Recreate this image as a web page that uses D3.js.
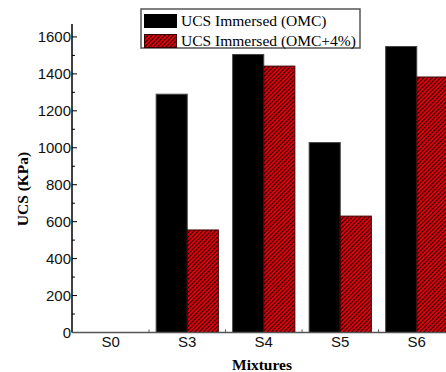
<!DOCTYPE html>
<html><head><meta charset="utf-8">
<script src="https://cdn.jsdelivr.net/npm/d3@7/dist/d3.min.js"></script>
<style>body{margin:0;background:#fff}svg{display:block}</style>
</head><body>
<script>
const categories = ["S0","S3","S4","S5","S6"];
const seriesNames = ["UCS Immersed (OMC)","UCS Immersed (OMC+4%)"];
const omc = [0,1290,1505,1028,1548];
const omc4 = [0,555,1442,630,1383];
const yTicks = [0,200,400,600,800,1000,1200,1400,1600];
const yMinor = [100,300,500,700,900,1100,1300,1500];

const W=446,H=372;
const svg=d3.select("body").append("svg").attr("width",W).attr("height",H);
const defs=svg.append("defs");
const pat=defs.append("pattern").attr("id","hatch").attr("patternUnits","userSpaceOnUse")
  .attr("width",3).attr("height",3).attr("patternTransform","rotate(45)");
pat.append("rect").attr("width",3).attr("height",3).attr("fill","#e8000b");
pat.append("rect").attr("x",0).attr("width",1.1).attr("height",3).attr("fill","#200000");

const x=d3.scaleBand().domain(categories).range([72.5,455]).paddingInner(0).paddingOuter(0);
const x1=d3.scaleBand().domain(seriesNames).range([0,x.bandwidth()]).paddingInner(0).paddingOuter(0.23);
const y=d3.scaleLinear().domain([0,1670]).range([332.5,24]);

const data=categories.map((c,i)=>({c,vals:[omc[i],omc4[i]]}));
const g=svg.append("g");
data.forEach(d=>{
  d.vals.forEach((v,j)=>{
    if(v<=0) return;
    g.append("rect").attr("x",x(d.c)+x1(seriesNames[j])).attr("y",y(v))
      .attr("width",x1.bandwidth()).attr("height",y(0)-y(v))
      .attr("fill", j===0?"#000":"url(#hatch)")
      .attr("stroke", j===0?"#444":"#3a0000").attr("stroke-width",1);
  });
});

// Y axis
const ya=svg.append("g").attr("transform","translate(72,0)");
ya.append("line").attr("x1",0).attr("x2",0).attr("y1",y(1670)).attr("y2",y(0)).attr("stroke","#000").attr("stroke-width",1.5);
ya.selectAll(".mj").data(yTicks).join("line").attr("x1",0).attr("x2",5).attr("y1",d=>y(d)).attr("y2",d=>y(d)).attr("stroke","#000");
ya.selectAll(".mn").data(yMinor).join("line").attr("x1",0).attr("x2",3).attr("y1",d=>y(d)).attr("y2",d=>y(d)).attr("stroke","#000");
ya.selectAll("text").data(yTicks).join("text").attr("x",-1).attr("y",d=>y(d)+5.3)
  .attr("text-anchor","end").attr("font-family","Liberation Sans, Arial, sans-serif").attr("font-size",15).attr("fill","#111").text(d=>d);

// X axis
const xa=svg.append("g");
xa.append("line").attr("x1",72).attr("x2",W).attr("y1",y(0)).attr("y2",y(0)).attr("stroke","#555").attr("stroke-width",1.6);
xa.selectAll(".xt").data(categories.slice(1)).join("line").attr("x1",d=>x(d)).attr("x2",d=>x(d)).attr("y1",y(0)).attr("y2",y(0)-3).attr("stroke","#555");
xa.selectAll("text").data(categories).join("text").attr("x",d=>x(d)+x.bandwidth()/2).attr("y",346.5)
  .attr("text-anchor","middle").attr("font-family","Liberation Sans, Arial, sans-serif").attr("font-size",15).attr("fill","#111").text(d=>d);

svg.append("text").attr("x",262).attr("y",370).attr("text-anchor","middle")
  .attr("font-family","Liberation Serif, Times New Roman, serif").attr("font-weight","bold").attr("font-size",15.5).text("Mixtures");
svg.append("text").attr("transform","translate(28,189) rotate(-90)").attr("text-anchor","middle")
  .attr("font-family","Liberation Serif, Times New Roman, serif").attr("font-weight","bold").attr("font-size",15.5).text("UCS (KPa)");

// Legend
const lg=svg.append("g");
lg.append("rect").attr("x",141).attr("y",9).attr("width",219).attr("height",39).attr("fill","#fff").attr("stroke","#555").attr("stroke-width",1.5);
const rows=[21,41];
seriesNames.forEach((s,j)=>{
  lg.append("rect").attr("x",144.5).attr("y",rows[j]-6.5).attr("width",32).attr("height",13)
    .attr("fill", j===0?"#000":"url(#hatch)").attr("stroke", j===0?"#000":"#3a0000");
  lg.append("text").attr("x",181).attr("y",rows[j]+5).attr("font-family","Liberation Serif, Times New Roman, serif")
    .attr("font-size",15.5).attr("fill","#000").text(s);
});
</script>
</body></html>
